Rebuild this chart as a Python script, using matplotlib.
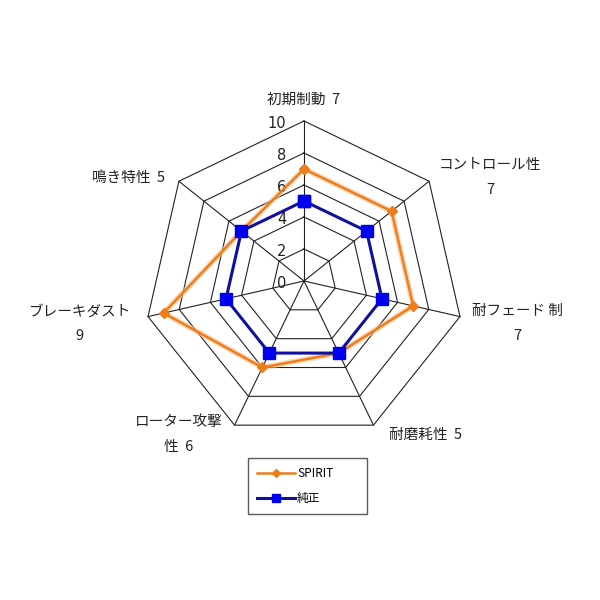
import numpy as np
import matplotlib
matplotlib.use("Agg")
import matplotlib.pyplot as plt
from matplotlib.lines import Line2D

plt.rcParams['font.family'] = ['Noto Sans CJK JP', 'DejaVu Sans']

# axis labels, clockwise from the top
labels = ['初期制動  7', 'コントロール性\n7', '耐フェード 制\n7', '耐磨耗性  5',
          'ローター攻撃\n性  6', 'ブレーキダスト\n9', '鳴き特性  5']
spirit = [7, 7, 7, 5, 6, 9, 5]
junsei = [5, 5, 5, 5, 5, 5, 5]
series_names = ['SPIRIT', '純正']
ring_ticks = [0, 2, 4, 6, 8, 10]

n = len(labels)
ang = np.pi / 2 - np.arange(n) * 2 * np.pi / n


def xy(vals):
    vals = np.asarray(vals, dtype=float)
    x = vals * np.cos(ang)
    y = vals * np.sin(ang)
    return np.append(x, x[0]), np.append(y, y[0])


fig = plt.figure(figsize=(6, 6), dpi=100)
ax = fig.add_axes([0, 0, 1, 1])
# 16 px per unit, centre at pixel (304, 281)
ax.set_xlim(-304 / 16, 296 / 16)
ax.set_ylim(-319 / 16, 281 / 16)
ax.axis('off')

grid_col = '#222222'
for r in ring_ticks[1:]:
    gx, gy = xy([r] * n)
    ax.plot(gx, gy, color=grid_col, lw=0.8, zorder=1)
for a in ang:
    ax.plot([0, 10 * np.cos(a)], [0, 10 * np.sin(a)], color=grid_col, lw=0.8, zorder=1)

for r in ring_ticks:
    ax.text(-1.1, r - 0.15, str(r), ha='right', va='center', fontsize=10.5, color='#222222',
            family=['DejaVu Sans'])

# category labels
offsets = [(0, 1.35), (3.8, 0.25), (3.6, -0.45), (3.25, -0.6),
           (-3.5, -0.6), (-4.3, -0.45), (-3.15, 0.2)]
for i, lab in enumerate(labels):
    x = 10 * np.cos(ang[i]) + offsets[i][0]
    y = 10 * np.sin(ang[i]) + offsets[i][1]
    ax.text(x, y, lab, ha='center', va='center', fontsize=10.5, color='#222222',
            linespacing=2.0)

orange = '#EE7D1E'
blue_line = '#1010A0'
blue_mark = '#0000EE'

sx, sy = xy(spirit)
ax.plot(sx, sy, color='#F8C08A', lw=4, alpha=0.6, zorder=2)
ax.plot(sx, sy, color=orange, lw=1.8, marker='D', ms=5, mfc=orange, mec=orange, zorder=3)
jx, jy = xy(junsei)
ax.plot(jx, jy, color=blue_line, lw=2.2, marker='s', ms=8, mfc=blue_mark, mec=blue_mark,
        zorder=4)

handles = [Line2D([], [], color=orange, lw=1.8, marker='D', ms=4, mfc=orange, mec=orange),
           Line2D([], [], color=blue_line, lw=2.2, marker='s', ms=6, mfc=blue_mark, mec=blue_mark)]
leg = fig.legend(handles, series_names, loc='upper left',
                 bbox_to_anchor=(248 / 600, 1 - 458 / 600, 119 / 600, 0), mode='expand',
                 fontsize=8.5, frameon=True, fancybox=False, handlelength=3.2,
                 handletextpad=0.2, borderpad=0.75, labelspacing=1.0, borderaxespad=0)
leg.get_frame().set_edgecolor('#333333')
leg.get_frame().set_linewidth(1.0)

fig.savefig('out.png', dpi=100, facecolor='white')
